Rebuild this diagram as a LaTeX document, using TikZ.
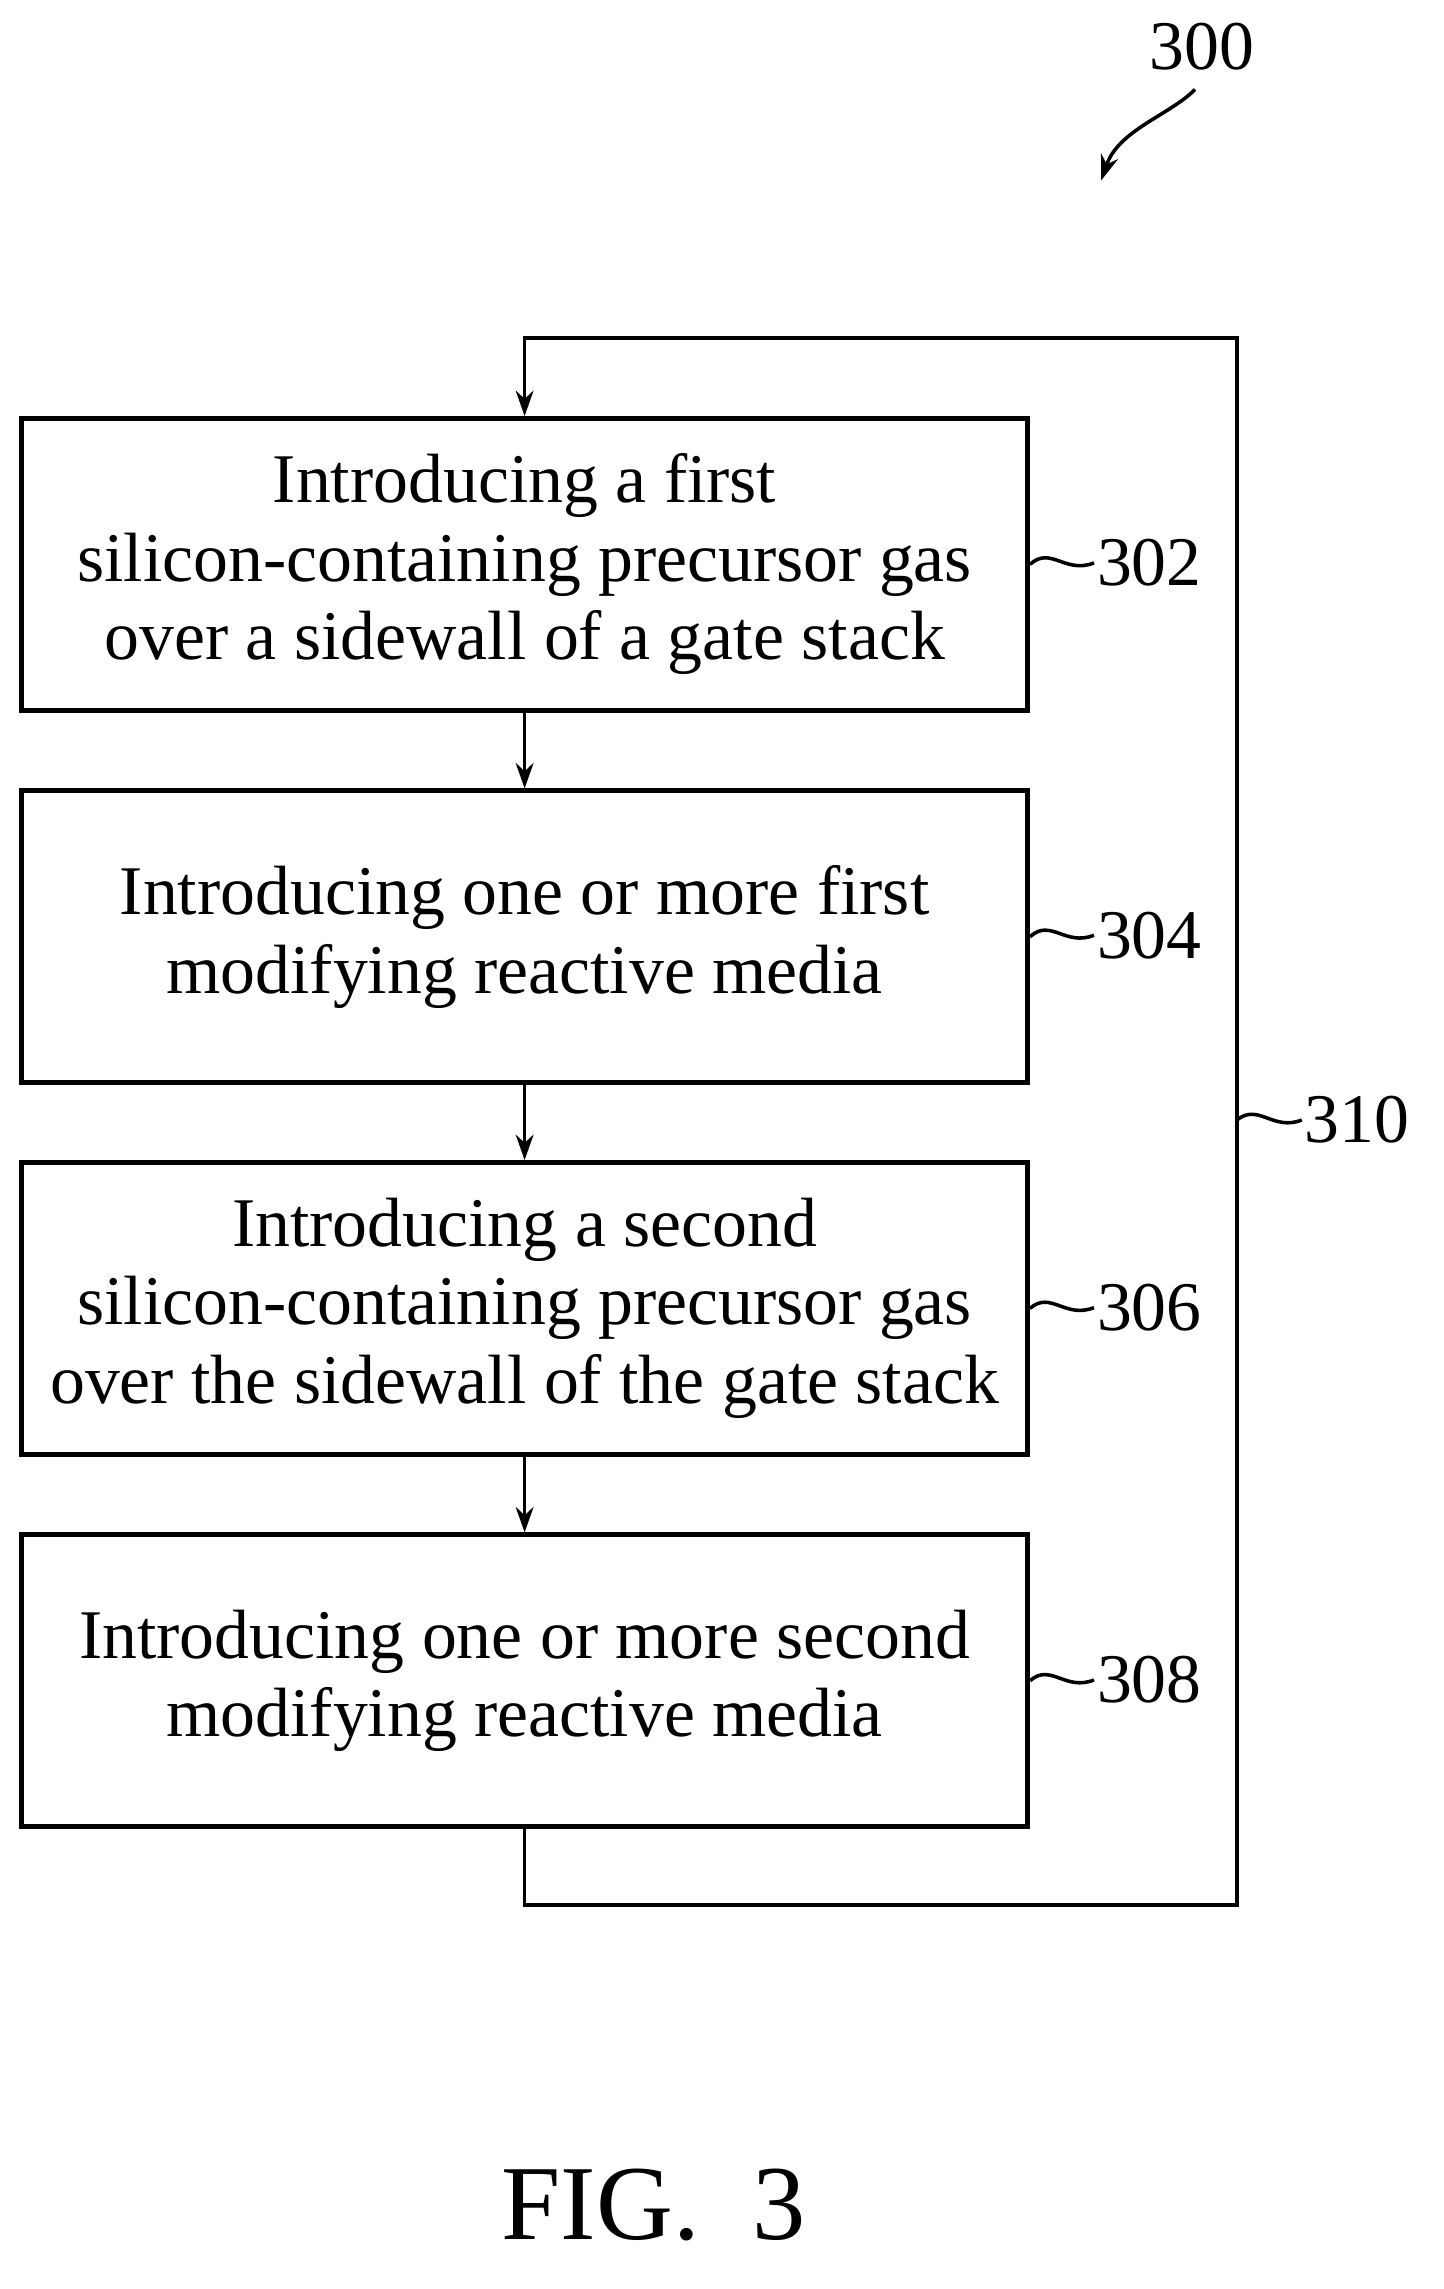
\documentclass[tikz,border=0pt]{standalone}
\usepackage{fontspec}
\setmainfont{Liberation Serif}
\usetikzlibrary{arrows.meta, positioning}
\tikzset{
    stepbox/.style={rectangle, draw, line width=2pt, align=center, minimum width=13.94cm, minimum height=4.04cm, font=\fontsize{27.5}{31}\selectfont},
    ref/.style={font=\fontsize{27.5}{30}\selectfont, inner sep=1pt},
    arrow/.style={line width=1.4pt, -{Stealth[length=10pt, width=7pt]}},
    tie/.style={line width=1.4pt}
}
\begin{document}
\begin{tikzpicture}[x=0.02cm, y=-0.02cm]
    \useasboundingbox (0,0) rectangle (1000,1586);
    % steps
    \node (s302) [stepbox] at (363.5, 391) {Introducing a first\\silicon-containing precursor gas\\over a sidewall of a gate stack};
    \node (s304) [stepbox] at (363.5, 649) {Introducing one or more first\\modifying reactive media};
    \node (s306) [stepbox] at (363.5, 906.5) {Introducing a second\\silicon-containing precursor gas\\over the sidewall of the gate stack};
    \node (s308) [stepbox] at (363.5, 1164.5) {Introducing one or more second\\modifying reactive media};

    \draw[arrow] (s302) -- (s304);
    \draw[arrow] (s304) -- (s306);
    \draw[arrow] (s306) -- (s308);

    % loop back
    \coordinate (loop_top) at (363.5, 234);
    \coordinate (loop_br) at (857, 1320);
    \draw[arrow] (s308.south) -- (363.5, 1320) -- (loop_br) -- (857, 234) -- (loop_top) -- (s302.north);

    % reference numerals
    \foreach \n/\y in {302/390, 304/648, 306/906, 308/1164} {
        \node (r\n) [ref, anchor=west] at (758, \y) {\n};
        \draw[tie] (s\n.east) .. controls (728, \y-12) and (738, \y+8) .. (r\n.west);
    }
    \coordinate (loop_side) at (857, 776);
    \node (r310) [ref, anchor=west] at (902, 776) {310};
    \draw[tie] (loop_side) .. controls (872, 764) and (882, 784) .. (r310.west);

    \node (r300) [ref] at (833, 32) {300};
    \draw[arrow] (828, 62) .. controls (810, 80) and (775, 90) .. (763, 125);

    \node (fig) [font=\fontsize{42}{50}\selectfont] at (453, 1528) {FIG.~~3};
\end{tikzpicture}
\end{document}
